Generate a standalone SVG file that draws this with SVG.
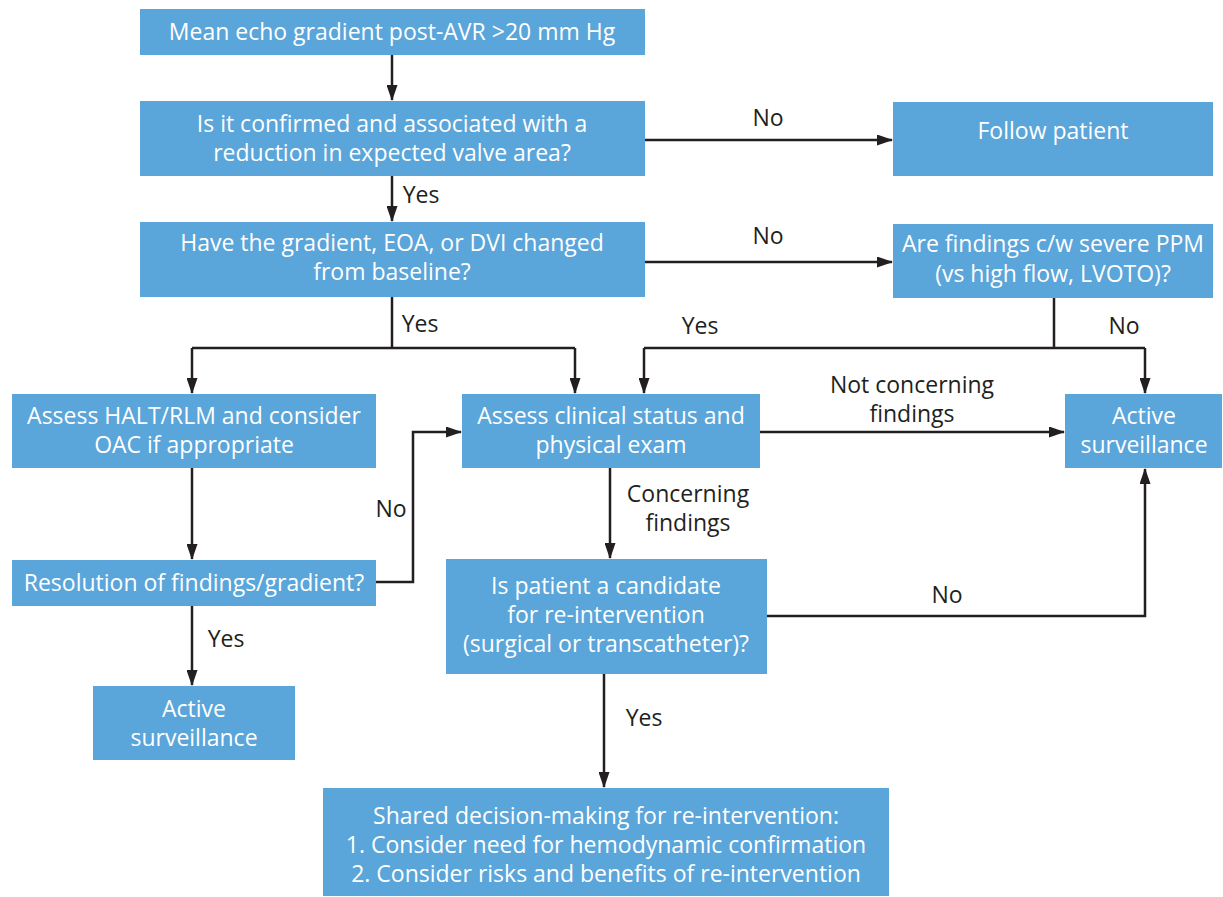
<svg xmlns="http://www.w3.org/2000/svg" width="1223" height="897" viewBox="0 0 1223 897">
<defs>
<marker id="ah" markerWidth="16" markerHeight="11" refX="15" refY="5.5" orient="auto" markerUnits="userSpaceOnUse">
<path d="M0,0 L16,5.5 L0,11 Z" fill="#231f20"/>
</marker>
<style>
.box{fill:#5aa5da}
.t{font-family:"Open Sans","Noto Sans",sans-serif;font-size:23px;font-weight:500;fill:#ffffff;text-anchor:middle}
.l{font-family:"Open Sans","Noto Sans",sans-serif;font-size:23px;font-weight:500;fill:#231f20;text-anchor:middle}
.c{fill:none;stroke:#231f20;stroke-width:2.5}
.a{fill:none;stroke:#231f20;stroke-width:2.5;marker-end:url(#ah)}
</style>
</defs>
<rect width="1223" height="897" fill="#ffffff"/>
<g id="connectors">
<path class="a" d="M392,55 V100"/>
<path class="a" d="M392,176 V221"/>
<path class="a" d="M645,140 H892"/>
<path class="a" d="M645,262 H892"/>
<path class="c" d="M392,297 V348 M192,348 H575"/>
<path class="a" d="M192,348 V393"/>
<path class="a" d="M575,348 V393"/>
<path class="c" d="M1054,298 V348 M644,348 H1145"/>
<path class="a" d="M644,348 V393"/>
<path class="a" d="M1145,348 V393"/>
<path class="a" d="M760,432 H1064"/>
<path class="a" d="M192,468 V559"/>
<path class="a" d="M376,582 H413 V432 H461"/>
<path class="a" d="M192,606 V685"/>
<path class="a" d="M610,468 V558"/>
<path class="a" d="M767,616 H1145 V469"/>
<path class="a" d="M604,674 V787"/>
</g>
<g id="labels">
<text class="l" x="768" y="126">No</text>
<text class="l" x="421" y="203">Yes</text>
<text class="l" x="768" y="244">No</text>
<text class="l" x="420" y="332">Yes</text>
<text class="l" x="700" y="334">Yes</text>
<text class="l" x="1124" y="334">No</text>
<text class="l" x="912" y="393">Not concerning</text>
<text class="l" x="912" y="422">findings</text>
<text class="l" x="391" y="517">No</text>
<text class="l" x="688" y="502">Concerning</text>
<text class="l" x="688" y="531">findings</text>
<text class="l" x="226" y="647">Yes</text>
<text class="l" x="947" y="603">No</text>
<text class="l" x="644" y="726">Yes</text>
</g>
<g id="n1"><rect class="box" x="140" y="9" width="505" height="46"/><text class="t" x="392" y="40">Mean echo gradient post-AVR &gt;20 mm Hg</text></g>
<g id="n2"><rect class="box" x="140" y="101" width="505" height="75"/><text class="t" x="392" y="132">Is it confirmed and associated with a</text><text class="t" x="392" y="161">reduction in expected valve area?</text></g>
<g id="n3"><rect class="box" x="893" y="102" width="320" height="74"/><text class="t" x="1053" y="139">Follow patient</text></g>
<g id="n4"><rect class="box" x="140" y="222" width="505" height="75"/><text class="t" x="392" y="251">Have the gradient, EOA, or DVI changed</text><text class="t" x="392" y="280">from baseline?</text></g>
<g id="n5"><rect class="box" x="893" y="224" width="320" height="74"/><text class="t" x="1053" y="252">Are findings c/w severe PPM</text><text class="t" x="1053" y="282">(vs high flow, LVOTO)?</text></g>
<g id="n6"><rect class="box" x="12" y="394" width="364" height="74"/><text class="t" x="194" y="424">Assess HALT/RLM and consider</text><text class="t" x="194" y="453">OAC if appropriate</text></g>
<g id="n7"><rect class="box" x="462" y="394" width="298" height="74"/><text class="t" x="611" y="424">Assess clinical status and</text><text class="t" x="611" y="453">physical exam</text></g>
<g id="n8"><rect class="box" x="1065" y="394" width="157" height="74"/><text class="t" x="1144" y="424">Active</text><text class="t" x="1144" y="453">surveillance</text></g>
<g id="n9"><rect class="box" x="12" y="560" width="364" height="46"/><text class="t" x="194" y="591">Resolution of findings/gradient?</text></g>
<g id="n10"><rect class="box" x="446" y="559" width="321" height="115"/><text class="t" x="606" y="594">Is patient a candidate</text><text class="t" x="606" y="623">for re-intervention</text><text class="t" x="606" y="652">(surgical or transcatheter)?</text></g>
<g id="n11"><rect class="box" x="93" y="686" width="202" height="74"/><text class="t" x="194" y="717">Active</text><text class="t" x="194" y="746">surveillance</text></g>
<g id="n12"><rect class="box" x="323" y="788" width="566" height="108"/><text class="t" x="606" y="824">Shared decision-making for re-intervention:</text><text class="t" x="606" y="853">1. Consider need for hemodynamic confirmation</text><text class="t" x="606" y="882">2. Consider risks and benefits of re-intervention</text></g>
</svg>
